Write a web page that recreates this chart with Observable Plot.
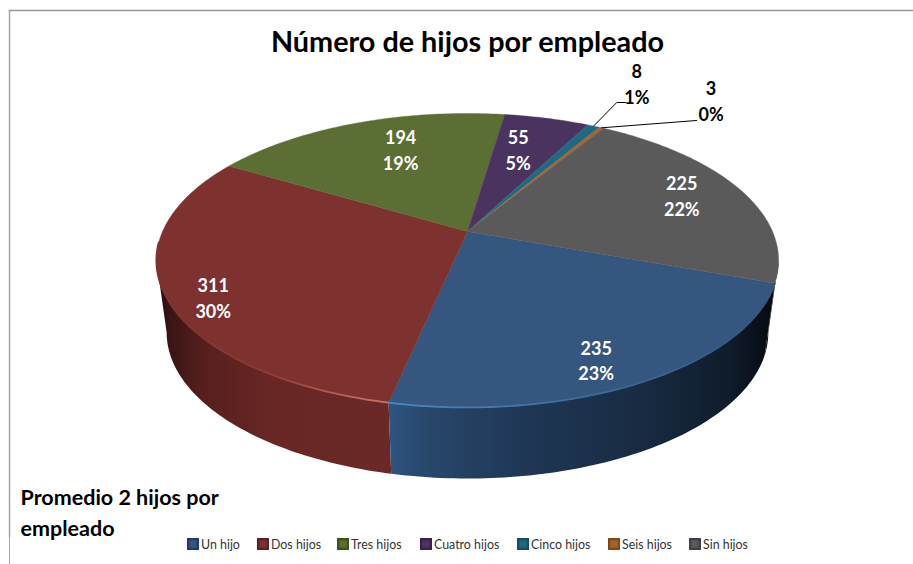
<!DOCTYPE html>
<html><head><meta charset="utf-8">
<script src="https://cdn.jsdelivr.net/npm/d3@7"></script>
<script src="https://cdn.jsdelivr.net/npm/@observablehq/plot@0.6"></script>
<style>
html,body{margin:0;padding:0;background:#fff;overflow:hidden}
#legend{margin-left:9px;border-left:1.5px solid #a6a6a6;height:28px;position:relative;font:12.4px Lato,sans-serif;color:#333}
#legend .it{position:absolute;top:1px;display:flex;align-items:center;white-space:nowrap}
#legend i{display:inline-block;width:12px;height:12px;margin-right:2px;margin-top:-2px;box-sizing:border-box;border-radius:1px}
</style></head><body>
<div id="chart"></div><div id="legend"></div>
<script>
const categories = ["Un hijo","Dos hijos","Tres hijos","Cuatro hijos","Cinco hijos","Seis hijos","Sin hijos"];
const counts = [235,311,194,55,8,3,225];
const percents = ["23%","30%","19%","5%","1%","0%","22%"];
const topColors = ["#34567f","#7e3230","#5b6e33","#4b3360","#1f6a80","#a9632b","#5a5a5a"];
const swatchEdge = ["#1f3a5c","#5c2020","#3d4c1e","#33204a","#164a5c","#7a4517","#3c3f48"];
const legendLeft = [177,247,327,410,507,598,679];

// label placement on the disc: radius factor and angular shift from the slice's mid-angle
const labelRadius = [.848,.874,.705,.686,1.483,1.49,.79];
const labelShift = [4,-5.4,4.9,-2.1,-.9,10,-1.1];
const leaderBends = {4:[[1.263,-.8],[1.28,.6]],5:[[1.286,12.8]]};

const startAngle = 20, persp = .197, W = 913, H = 536;
const cx = 467, cy = 231, ux = 305, uy = 141.3;
const total = d3.sum(counts);
const rad = d => d*Math.PI/180;
const tangent = Math.asin(persp)*180/Math.PI;
function topPt(a,r=1){const u=r*Math.cos(rad(a)),v=r*Math.sin(rad(a)),w=1-persp*v;return {X:u/w,Y:v/w};}
function basePt(a){const u=Math.cos(rad(a)),v=Math.sin(rad(a)),w=1-persp*v;return {X:.967*u/w,Y:.511+.9935*v/w};}
let cum=0;
const slices=counts.map((c,i)=>{const a0=startAngle+cum/total*360;cum+=c;const a1=startAngle+cum/total*360;return {i,a0,a1,mid:(a0+a1)/2};});
const arc=(a0,a1,f)=>{const n=Math.max(2,Math.ceil(Math.abs(a1-a0)));return d3.range(n+1).map(k=>f(a0+(a1-a0)*k/n));};
const face=s=>[{X:0,Y:0},...arc(s.a0,s.a1,a=>topPt(a)),{X:0,Y:0}];
const wall=(a0,a1)=>[...arc(a0,a1,a=>topPt(a)),...arc(a1,a0,basePt)];

const labels=slices.map(s=>{const p=topPt(s.mid+labelShift[s.i],labelRadius[s.i]);return {...p,t:counts[s.i]+"\n"+percents[s.i],outside:labelRadius[s.i]>1};});
const leaders=Object.entries(leaderBends).map(([i,b])=>{const s=slices[+i];return [topPt(s.mid),...b.map(([r,d])=>topPt(s.mid+d,r))];});

const gradient=(id,stops)=>`<linearGradient id="${id}" x1="0" x2="1" y1="0" y2="0">${stops.map(([o,c])=>`<stop offset="${o}" stop-color="${c}"/>`).join("")}</linearGradient>`;
const defs=()=>{const g=d3.create("svg:defs");g.html(
 gradient("wallRed",[[0,"#1c0a0a"],[.06,"#3a1514"],[.2,"#561f1e"],[.5,"#682725"],[1,"#6a2826"]])+
 gradient("wallBlue",[[0,"#2e5580"],[.1,"#27476b"],[.35,"#1f3755"],[.65,"#182b42"],[.88,"#0f1c2b"],[1,"#060a10"]])+
 gradient("wallGray",[[0,"#0a0a0a"],[1,"#1a1a1a"]])+
 gradient("rimRed",[[0,"#7e3230"],[.5,"#8f3d39"],[.8,"#b8635a"],[1,"#c9766b"]])+
 gradient("rimBlue",[[0,"#4a8ac4"],[.45,"#3d6fa3"],[1,"#34567f"]]));return g.node();};
const soft={imageFilter:"blur(0.5px)"};

const poly=(pts,fill,extra={})=>Plot.line(pts,{x:"X",y:"Y",fill,stroke:"none",curve:"linear",...soft,...extra});
const chart=Plot.plot({
 width:W,height:H,marginLeft:9,marginTop:10,marginRight:0,marginBottom:0,
 x:{axis:null,domain:[(9-cx)/ux,(W-cx)/ux]},
 y:{axis:null,reverse:true,domain:[(10-cy)/uy,(H-cy)/uy]},
 style:{background:"transparent",overflow:"visible"},
 marks:[
  defs,
  Plot.frame({anchor:"top",stroke:"#999",strokeWidth:1.5}),
  Plot.frame({anchor:"left",stroke:"#a6a6a6",strokeWidth:1.5}),
  poly(wall(tangent,slices[0].a0),"url(#wallGray)"),
  poly(wall(slices[1].a0,180-tangent),"url(#wallRed)"),
  poly(wall(slices[0].a0,slices[0].a1),"url(#wallBlue)"),
  ...slices.map(s=>Plot.line(face(s),{x:"X",y:"Y",fill:topColors[s.i],stroke:topColors[s.i],strokeWidth:.4,curve:"linear",...soft})),
  Plot.line(arc(slices[1].a1-35,slices[1].a0,a=>topPt(a)),{x:"X",y:"Y",stroke:"url(#rimRed)",strokeWidth:1.8,...soft}),
  Plot.line(arc(slices[0].a0,slices[0].a1,a=>topPt(a)),{x:"X",y:"Y",stroke:"url(#rimBlue)",strokeWidth:1.8,...soft}),
  ...leaders.map(l=>Plot.line(l,{x:"X",y:"Y",stroke:"#000",strokeWidth:1,curve:"linear"})),
  Plot.text(labels.filter(d=>!d.outside),{x:"X",y:"Y",text:"t",fill:"#fff",fontFamily:"Lato",fontWeight:700,fontSize:18,lineHeight:1.42}),
  Plot.text(labels.filter(d=>d.outside),{x:"X",y:"Y",text:"t",dy:-1.5,fill:"#000",fontFamily:"Lato",fontWeight:700,fontSize:18,lineHeight:1.42}),
  Plot.text(["Número de hijos por empleado"],{frameAnchor:"top",dx:6,dy:21,fill:"#000",fontFamily:"Lato",fontWeight:700,fontSize:28.8,lineAnchor:"top"}),
  Plot.text(["Promedio 2 hijos por\nempleado"],{frameAnchor:"bottom-left",dx:11,dy:-1,fill:"#000",fontFamily:"Lato",fontWeight:700,fontSize:21.5,lineHeight:1.4,textAnchor:"start",lineAnchor:"bottom"})
 ]
});
document.getElementById("chart").appendChild(chart);
chart.style.display="block";
const lg=document.getElementById("legend");
categories.forEach((c,i)=>{const d=document.createElement("div");d.className="it";d.style.left=legendLeft[i]+"px";
 const s=document.createElement("i");s.style.background=topColors[i];s.style.boxShadow=`inset 0 0 2px 2px ${swatchEdge[i]}`;
 d.appendChild(s);d.appendChild(document.createTextNode(c));lg.appendChild(d);});
</script></body></html>
